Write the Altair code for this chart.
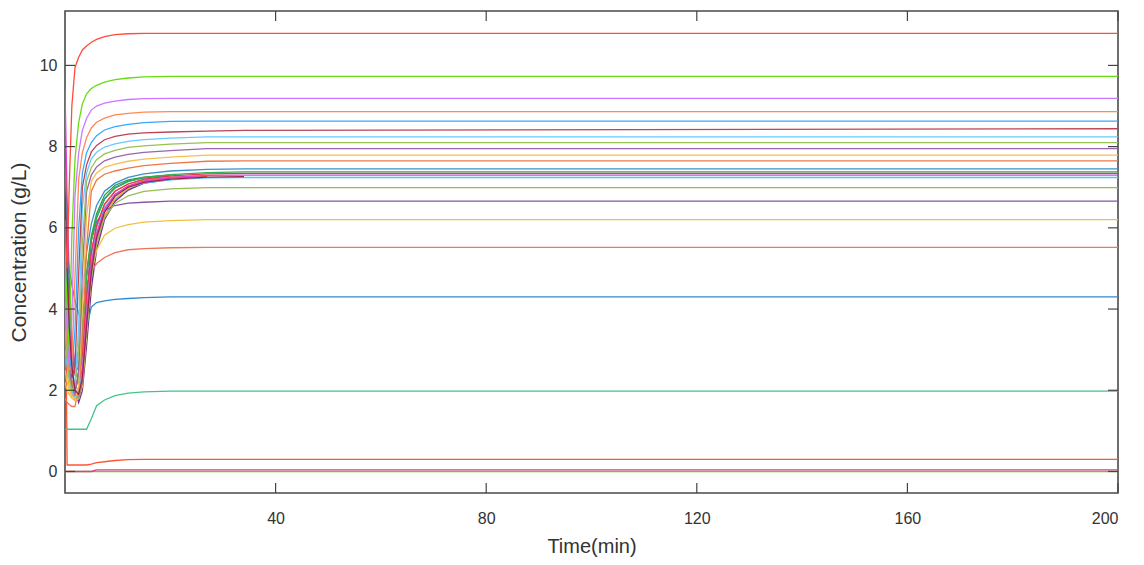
import altair as alt
import pandas as pd

# time grid (min)
T = [0, 0.4, 0.8, 1.3, 1.9, 2.6, 3.3, 4.1, 5, 6, 7.5, 9.5, 12, 15, 20, 27, 34, 200]

s01 = [6.2, 5.0, 7.0, 9.0, 9.95, 10.2, 10.38, 10.48, 10.57, 10.64, 10.71, 10.76, 10.78, 10.79, 10.79, 10.79, 10.79, 10.79]
s02 = [5.5, 4.0, 3.0, 5.8, 7.7, 8.6, 9.05, 9.3, 9.43, 9.51, 9.59, 9.65, 9.69, 9.72, 9.73, 9.73, 9.73, 9.73]
s03 = [4.8, 3.5, 2.6, 3.8, 6.8, 7.85, 8.4, 8.7, 8.9, 9.0, 9.07, 9.12, 9.16, 9.18, 9.19, 9.19, 9.19, 9.19]
s04 = [4.2, 3.2, 2.5, 2.6, 4.8, 7.2, 7.85, 8.22, 8.46, 8.6, 8.7, 8.78, 8.82, 8.85, 8.86, 8.86, 8.86, 8.86]
s05 = [6.5, 4.5, 3.0, 2.4, 3.5, 6.0, 7.35, 7.85, 8.1, 8.27, 8.41, 8.49, 8.55, 8.59, 8.62, 8.63, 8.63, 8.63]
s06 = [7.0, 5.0, 3.3, 2.3, 2.6, 4.9, 7.0, 7.55, 7.87, 8.03, 8.17, 8.25, 8.31, 8.34, 8.36, 8.38, 8.40, 8.44]
s07 = [5.8, 4.2, 3.0, 2.3, 2.2, 3.6, 6.5, 7.35, 7.7, 7.86, 7.99, 8.07, 8.13, 8.17, 8.21, 8.24, 8.24, 8.24]
s08 = [3.5, 2.8, 2.3, 2.0, 2.1, 3.0, 5.6, 7.15, 7.48, 7.68, 7.82, 7.91, 7.98, 8.02, 8.06, 8.1, 8.1, 8.1]
s09 = [4.5, 3.4, 2.6, 2.1, 1.9, 2.5, 4.9, 6.9, 7.3, 7.5, 7.65, 7.74, 7.81, 7.86, 7.9, 7.95, 7.95, 7.95]
s10 = [2.5, 2.2, 2.0, 1.85, 1.8, 2.1, 4.0, 6.3, 7.15, 7.35, 7.49, 7.57, 7.64, 7.69, 7.74, 7.79, 7.79, 7.79]
s11 = [6.0, 4.3, 3.1, 2.3, 1.9, 1.9, 3.2, 5.5, 6.9, 7.18, 7.32, 7.4, 7.47, 7.53, 7.59, 7.64, 7.65, 7.65]
s12 = [7.5, 5.6, 4.0, 3.0, 2.6, 3.0, 4.3, 5.4, 6.1, 6.55, 6.9, 7.1, 7.24, 7.33, 7.4, 7.44, 7.45, 7.45]
s13 = [5.0, 3.8, 2.9, 2.3, 2.0, 2.3, 3.4, 4.8, 5.7, 6.25, 6.7, 6.98, 7.14, 7.24, 7.31, 7.36, 7.38, 7.38]
s14 = [8.0, 6.0, 4.3, 3.1, 2.4, 2.3, 2.9, 4.3, 5.4, 6.05, 6.58, 6.9, 7.08, 7.2, 7.28, 7.33, 7.34, 7.34]
s15 = [9.4, 6.8, 4.8, 3.4, 2.6, 2.2, 2.5, 3.8, 5.1, 5.85, 6.45, 6.82, 7.03, 7.15, 7.24, 7.29, 7.3, 7.3]
s16 = [3.0, 2.6, 2.3, 2.0, 1.8, 1.9, 2.6, 4.1, 5.3, 6.0, 6.5, 6.82, 7.0, 7.1, 7.18, 7.23, 7.24, 7.24]
s17 = [4.0, 3.2, 2.6, 2.2, 1.9, 1.8, 2.3, 3.5, 4.8, 5.65, 6.25, 6.6, 6.79, 6.9, 6.96, 6.99, 6.99, 6.99]
s18 = [5.5, 4.1, 3.1, 2.4, 2.0, 1.8, 2.2, 4.2, 5.7, 6.15, 6.43, 6.55, 6.61, 6.63, 6.66, 6.66, 6.66, 6.66]
s19 = [2.2, 2.0, 1.9, 1.8, 1.75, 1.8, 2.1, 3.4, 4.9, 5.45, 5.82, 5.99, 6.08, 6.14, 6.18, 6.2, 6.2, 6.2]
s20 = [1.8, 1.7, 1.65, 1.6, 1.6, 2.1, 3.4, 4.55, 4.93, 5.12, 5.27, 5.39, 5.46, 5.49, 5.51, 5.52, 5.52, 5.52]
s21 = [6.0, 5.4, 5.0, 4.6, 4.2, 3.9, 3.6, 3.55, 4.05, 4.16, 4.2, 4.24, 4.26, 4.28, 4.3, 4.3, 4.3, 4.3]
s22 = [1.04, 1.04, 1.04, 1.04, 1.04, 1.04, 1.04, 1.04, 1.3, 1.62, 1.76, 1.87, 1.93, 1.96, 1.98, 1.98, 1.98, 1.98]
s23 = [6.3, 0.16, 0.16, 0.16, 0.16, 0.16, 0.16, 0.16, 0.18, 0.22, 0.24, 0.27, 0.29, 0.3, 0.3, 0.3, 0.3, 0.3]
s24 = [0.0, 0.0, 0.0, 0.0, 0.0, 0.0, 0.0, 0.0, 0.0, 0.04, 0.04, 0.04, 0.04, 0.04, 0.04, 0.04, 0.04, 0.04]
s25 = [0.0, 0.0, 0.0, 0.0, 0.0, 0.0, 0.0, 0.0, 0.0, 0.0, 0.0, 0.0, 0.0, 0.0, 0.0, 0.0, 0.0, 0.0]
# runs that stop early
e01 = [6.8, 5.0, 3.6, 2.6, 2.0, 1.9, 2.3, 3.6, 4.9, 5.75, 6.38, 6.78, 7.0, 7.12, 7.2, 7.25, 7.26, None]
e02 = [3.8, 3.0, 2.4, 2.0, 1.8, 2.0, 2.9, 4.3, 5.4, 6.05, 6.58, 6.9, 7.08, 7.18, 7.25, 7.28, None, None]
e03 = [7.2, 5.4, 3.9, 2.9, 2.4, 2.6, 3.6, 4.9, 5.8, 6.35, 6.8, 7.05, 7.18, 7.25, 7.3, None, None, None]
e04 = [5.2, 4.0, 3.0, 2.3, 1.9, 1.9, 2.5, 3.9, 5.1, 5.85, 6.45, 6.82, 7.03, 7.15, 7.23, 7.27, None, None]
e05 = [4.3, 3.4, 2.7, 2.2, 2.0, 2.4, 3.5, 4.8, 5.7, 6.25, 6.72, 7.0, 7.15, 7.23, 7.28, None, None, None]
e06 = [2.8, 2.4, 2.1, 1.9, 1.75, 1.8, 2.3, 3.5, 4.8, 5.65, 6.3, 6.72, 6.97, 7.12, 7.2, None, None, None]
e07 = [6.2, 4.6, 3.4, 2.5, 2.0, 1.7, 2.0, 3.1, 4.5, 5.45, 6.2, 6.65, 6.93, 7.1, 7.2, None, None, None]
e08 = [3.3, 2.8, 2.4, 2.1, 1.85, 1.8, 2.2, 3.4, 4.7, 5.6, 6.28, 6.7, 6.95, 7.1, 7.19, None, None, None]

series = [
    ("e08", e08, "#4DBEEE"), ("e07", e07, "#7E2F8E"), ("e06", e06, "#EDB120"),
    ("e05", e05, "#3A7FD5"), ("e04", e04, "#EE3333"), ("e03", e03, "#2EA043"),
    ("e02", e02, "#F08030"),
    ("s25", s25, "#66CC33"), ("s24", s24, "#EE3399"), ("s23", s23, "#FF5533"),
    ("s22", s22, "#44C488"), ("s21", s21, "#3388CC"), ("s20", s20, "#EE7755"),
    ("s19", s19, "#F0C040"), ("s18", s18, "#8855A5"), ("s17", s17, "#99BB55"),
    ("s16", s16, "#55C5F5"), ("s15", s15, "#DD44DD"), ("s14", s14, "#EE3355"),
    ("s13", s13, "#30B050"), ("s12", s12, "#3D8FCC"), ("s11", s11, "#EE7744"),
    ("s10", s10, "#F5C050"), ("s09", s09, "#9966AA"), ("s08", s08, "#99C055"),
    ("s07", s07, "#66CCFF"), ("s06", s06, "#BB4455"), ("s05", s05, "#33AAFF"),
    ("s04", s04, "#FF8855"), ("s03", s03, "#CC77FF"), ("s02", s02, "#66DD11"),
    ("e01", e01, "#A0204A"), ("s01", s01, "#FF4D3A"),
]

rows = []
for k, (name, vals, col) in enumerate(series):
    for t, v in zip(T, vals):
        if v is not None:
            rows.append({"t": t, "c": v, "run": name, "ord": k})
df = pd.DataFrame(rows)

x_ticks = [40, 80, 120, 160, 200]
y_ticks = [0, 2, 4, 6, 8, 10]

W, H = 1053, 482
XD = [0, 200]
YD = [-0.53, 11.34]
FONT = "Liberation Sans"
TXT = "#333333"
TICK = "#444444"

xs = alt.Scale(domain=XD, nice=False, zero=False)
ys = alt.Scale(domain=YD, nice=False, zero=False)

lines = alt.Chart(df).mark_line(strokeWidth=1.3, clip=True).encode(
    x=alt.X("t:Q", scale=xs, title="Time(min)",
            axis=alt.Axis(values=x_ticks, ticks=False, domain=False, grid=False,
                          labelPadding=17, labelFontSize=16, labelFont=FONT,
                          labelColor=TXT, titleFont=FONT, titleFontSize=20,
                          titleFontWeight="normal", titleColor=TXT, titlePadding=10)),
    y=alt.Y("c:Q", scale=ys, title="Concentration (g/L)",
            axis=alt.Axis(values=y_ticks, ticks=False, domain=False, grid=False,
                          labelPadding=8, labelFontSize=16, labelFont=FONT,
                          labelColor=TXT, titleFont=FONT, titleFontSize=21,
                          titleFontWeight="normal", titleColor=TXT,
                          titleX=-46, titleBaseline="middle")),
    color=alt.Color("run:N", scale=alt.Scale(domain=[s[0] for s in series],
                                             range=[s[2] for s in series]),
                    legend=None),
    order=alt.Order("ord:Q"),
    detail="run:N",
)

xt = pd.DataFrame({"x": x_ticks})
yt = pd.DataFrame({"y": y_ticks})

xb = alt.Chart(xt).mark_rule(color=TICK, strokeWidth=1.2).encode(
    x=alt.X("x:Q", scale=xs), y=alt.value(H), y2=alt.value(H - 10))
xtop = alt.Chart(xt).mark_rule(color=TICK, strokeWidth=1.2).encode(
    x=alt.X("x:Q", scale=xs), y=alt.value(0), y2=alt.value(10))
yl = alt.Chart(yt).mark_rule(color=TICK, strokeWidth=1.2).encode(
    y=alt.Y("y:Q", scale=ys), x=alt.value(0), x2=alt.value(10))
yr = alt.Chart(yt).mark_rule(color=TICK, strokeWidth=1.2).encode(
    y=alt.Y("y:Q", scale=ys), x=alt.value(W), x2=alt.value(W - 10))

chart = alt.layer(lines, xb, xtop, yl, yr).properties(
    width=W, height=H,
    autosize=alt.AutoSizeParams(type="none"),
    padding={"left": 57, "top": 3, "right": 17, "bottom": 66},
).configure(background="white").configure_view(stroke="#4a4a4a", strokeWidth=1.6)

chart.save("out.html", embed_options={"renderer": "svg", "actions": False})
